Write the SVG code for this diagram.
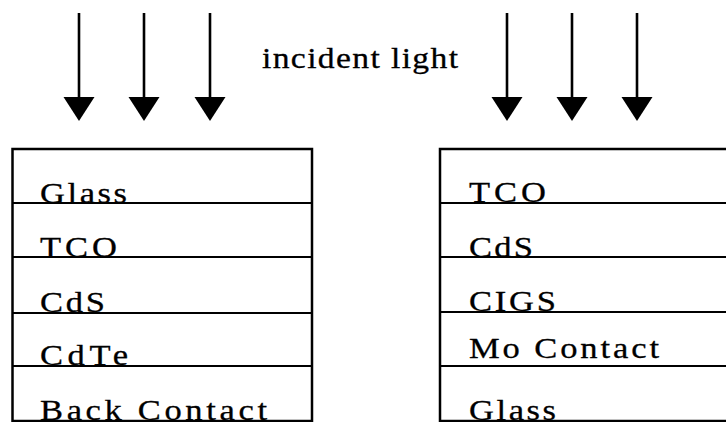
<svg xmlns="http://www.w3.org/2000/svg" width="726" height="422" viewBox="0 0 726 422">
  <defs>
    <style>
      .frame { fill: none; stroke: #000; stroke-width: 2.5; }
      .divider { stroke: #000; stroke-width: 2.2; }
      .shaft { stroke: #000; stroke-width: 2.6; }
      .head { fill: #000; }
      .label, .title { font-family: "Liberation Serif", "Times New Roman", serif; font-size: 30px; fill: #000; stroke: #000; stroke-width: 0.3; }
    </style>
    <g id="ray">
      <line class="shaft" x1="0" y1="13" x2="0" y2="99"/>
      <polygon class="head" points="-15.5,97 15.5,97 0,121"/>
    </g>
  </defs>
  <rect width="726" height="422" fill="#fff"/>

  <!-- incident light rays -->
  <g id="connectors">
    <use href="#ray" x="79"/>
    <use href="#ray" x="144"/>
    <use href="#ray" x="210"/>
    <use href="#ray" x="507"/>
    <use href="#ray" x="572"/>
    <use href="#ray" x="637"/>
  </g>

  <!-- lettering is set slightly wide: local x scaled by 1.15 (title 1.12) -->
  <g id="incident-light">
    <text class="title" transform="translate(262 68) scale(1.12 1)" textLength="175" lengthAdjust="spacing">incident light</text>
  </g>

  <!-- CdTe superstrate cell -->
  <g id="cdte-stack">
    <rect class="frame" x="12.5" y="149" width="299.5" height="272"/>
    <line class="divider" x1="12.5" y1="203" x2="312" y2="203"/>
    <line class="divider" x1="12.5" y1="257" x2="312" y2="257"/>
    <line class="divider" x1="12.5" y1="313" x2="312" y2="313"/>
    <line class="divider" x1="12.5" y1="366" x2="312" y2="366"/>
    <g id="cdte-glass"><text class="label" transform="translate(40 203) scale(1.15 1)" textLength="75.7" lengthAdjust="spacing">Glass</text></g>
    <g id="cdte-tco"><text class="label" transform="translate(40 257) scale(1.15 1)" textLength="67" lengthAdjust="spacing">TCO</text></g>
    <g id="cdte-cds"><text class="label" transform="translate(40 312) scale(1.15 1)" textLength="56.5" lengthAdjust="spacing">CdS</text></g>
    <g id="cdte-cdte"><text class="label" transform="translate(40 365) scale(1.15 1)" textLength="76.5" lengthAdjust="spacing">CdTe</text></g>
    <g id="cdte-back"><text class="label" transform="translate(40 420) scale(1.15 1)" textLength="197.4" lengthAdjust="spacing">Back Contact</text></g>
  </g>

  <!-- CIGS substrate cell -->
  <g id="cigs-stack">
    <rect class="frame" x="440" y="149" width="300" height="272"/>
    <line class="divider" x1="440" y1="203" x2="740" y2="203"/>
    <line class="divider" x1="440" y1="257" x2="740" y2="257"/>
    <line class="divider" x1="440" y1="312" x2="740" y2="312"/>
    <line class="divider" x1="440" y1="366" x2="740" y2="366"/>
    <g id="cigs-tco"><text class="label" transform="translate(469 202) scale(1.15 1)" textLength="67" lengthAdjust="spacing">TCO</text></g>
    <g id="cigs-cds"><text class="label" transform="translate(469 257) scale(1.15 1)" textLength="55.7" lengthAdjust="spacing">CdS</text></g>
    <g id="cigs-cigs"><text class="label" transform="translate(469 311) scale(1.15 1)" textLength="75.7" lengthAdjust="spacing">CIGS</text></g>
    <g id="cigs-mo"><text class="label" transform="translate(469 358) scale(1.15 1)" textLength="165.2" lengthAdjust="spacing">Mo Contact</text></g>
    <g id="cigs-glass"><text class="label" transform="translate(469 420) scale(1.15 1)" textLength="75.7" lengthAdjust="spacing">Glass</text></g>
  </g>
</svg>
